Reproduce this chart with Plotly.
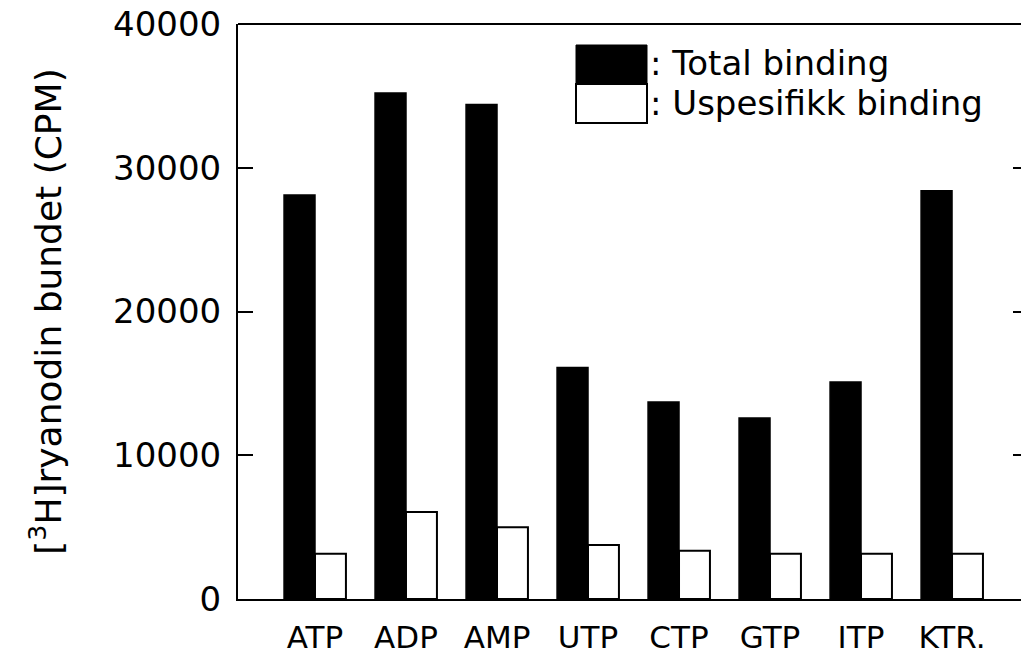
import plotly.graph_objects as go

# Nucleotide conditions and measured [3H]ryanodine binding (CPM)
categories = ["ATP", "ADP", "AMP", "UTP", "CTP", "GTP", "ITP", "KTR."]
total_binding = [28100, 35200, 34400, 16100, 13700, 12600, 15100, 28400]
nonspecific_binding = [3150, 6050, 5000, 3750, 3350, 3150, 3150, 3150]
y_ticks = [0, 10000, 20000, 30000, 40000]
legend_labels = [": Total binding", ": Uspesifikk binding"]

W, H = 1021, 657
M_L, M_R, M_T, M_B = 238, 0, 24, 58
FONT = "DejaVu Sans"


def px(x):
    return (x - M_L) / (W - M_L - M_R)


def py(y):
    return (H - M_B - y) / (H - M_T - M_B)


fig = go.Figure()
fig.add_trace(go.Bar(
    x=categories, y=total_binding, name=legend_labels[0],
    marker=dict(color="black", line=dict(color="black", width=1.5)),
))
fig.add_trace(go.Bar(
    x=categories, y=nonspecific_binding, name=legend_labels[1],
    marker=dict(color="white", line=dict(color="black", width=2)),
))

# Right-hand tick marks (axis line itself lies past the page edge)
fig.add_trace(go.Scatter(x=[None], y=[None], yaxis="y2", showlegend=False,
                         hoverinfo="skip"))

shapes = [
    # frame top edge
    dict(type="line", xref="paper", yref="paper", x0=0, x1=1, y0=1, y1=1,
         line=dict(color="black", width=2)),
    # legend swatches
    dict(type="rect", xref="paper", yref="paper",
         x0=px(576), x1=px(647), y0=py(83), y1=py(45),
         fillcolor="black", line=dict(color="black", width=1)),
    dict(type="rect", xref="paper", yref="paper",
         x0=px(576), x1=px(647), y0=py(123), y1=py(84),
         fillcolor="white", line=dict(color="black", width=2)),
]
annotations = [
    dict(text=legend_labels[0], xref="paper", yref="paper", x=px(648), y=py(63),
         xanchor="left", yanchor="middle", showarrow=False,
         font=dict(family=FONT, size=34, color="black")),
    dict(text=legend_labels[1], xref="paper", yref="paper", x=px(648), y=py(103),
         xanchor="left", yanchor="middle", showarrow=False,
         font=dict(family=FONT, size=34, color="black")),
]

fig.update_layout(
    width=W, height=H,
    margin=dict(l=M_L, r=M_R, t=M_T, b=M_B, pad=0, autoexpand=False),
    paper_bgcolor="white", plot_bgcolor="white",
    barmode="group", bargap=0.32, bargroupgap=0,
    showlegend=False,
    font=dict(family=FONT, color="black"),
    shapes=shapes, annotations=annotations,
    xaxis=dict(
        type="category", range=[-0.846, 7.758], automargin=False,
        showline=True, linecolor="black", linewidth=2,
        ticks="", showgrid=False, zeroline=False,
        tickfont=dict(family=FONT, size=31, color="black"),
        ticklabelstandoff=10,
    ),
    yaxis=dict(
        range=[0, 40000], tickvals=y_ticks, tickformat="d", automargin=False,
        showline=True, linecolor="black", linewidth=2,
        ticks="inside", ticklen=15, tickwidth=2, tickcolor="black",
        showgrid=False, zeroline=False,
        tickfont=dict(family=FONT, size=34, color="black"),
        ticklabelstandoff=8,
        title=dict(text="[<sup>3</sup>H]ryanodin bundet (CPM)",
                   font=dict(family=FONT, size=36, color="black"),
                   standoff=40),
    ),
    yaxis2=dict(
        overlaying="y", side="right", range=[0, 40000], automargin=False,
        tickvals=y_ticks[1:4], ticks="inside", ticklen=8, tickwidth=2,
        tickcolor="black", showticklabels=False, showline=False,
        showgrid=False, zeroline=False,
    ),
)

fig.write_html("out.html")
